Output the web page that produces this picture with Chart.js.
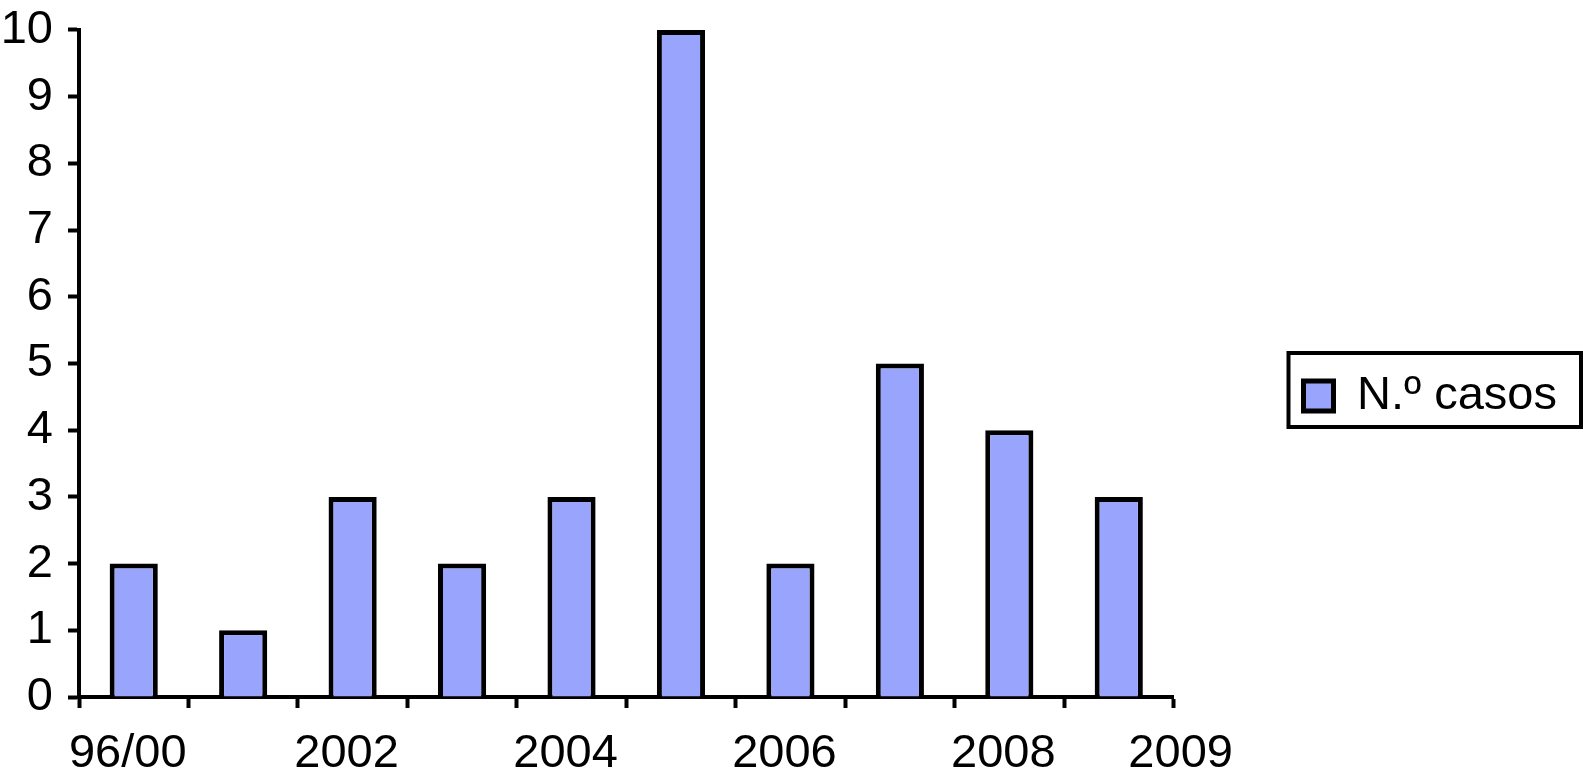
<!DOCTYPE html>
<html>
<head>
<meta charset="utf-8">
<script src="https://cdn.jsdelivr.net/npm/chart.js@4"></script>
<style>
  html, body { margin: 0; padding: 0; background: #fff; overflow: hidden; }
  #wrap { width: 1583px; height: 778px; }
</style>
</head>
<body>
<div id="wrap"><canvas id="my-chart"></canvas></div>
<script>
const categories = ["96/00", "2001", "2002", "2003", "2004", "2005", "2006", "2007", "2008", "2009"];
const casos = [2, 1, 3, 2, 3, 10, 2, 5, 4, 3];
const tickLabels = ["96/00", "2002", "2004", "2006", "2008", "2009"];
const seriesName = "N.º casos";

const FONT = "'Liberation Sans', Arial, sans-serif";

// box drawn round the legend item, like the original
const legendFrame = {
  id: "legendFrame",
  afterDraw(chart) {
    const hb = chart.legend && chart.legend.legendHitBoxes && chart.legend.legendHitBoxes[0];
    if (!hb) return;
    const ctx = chart.ctx;
    const cy = hb.top + hb.height / 2;
    const left = hb.left - 15;
    const right = chart.width - 2;
    ctx.save();
    ctx.strokeStyle = "#000";
    ctx.lineWidth = 4;
    ctx.strokeRect(left, cy - 43, right - left, 74);
    ctx.restore();
  },
};

const chartContainer = document.getElementById("my-chart");

new Chart(chartContainer, {
  type: "bar",
  data: {
    labels: categories,
    datasets: [
      {
        label: seriesName,
        data: casos,
        backgroundColor: "#99a5fd",
        borderColor: "#000",
        borderWidth: 5,
        categoryPercentage: 1,
        barPercentage: 0.44,
      },
    ],
  },
  options: {
    responsive: true,
    maintainAspectRatio: false,
    animation: false,
    layout: { padding: { top: 14, left: 2, right: 16, bottom: 0 } },
    plugins: {
      tooltip: { enabled: false },
      legend: {
        position: "right",
        maxWidth: 400,
        labels: {
          boxWidth: 30,
          boxHeight: 30,
          padding: 48,
          color: "#000",
          font: { family: FONT, size: 47 },
        },
      },
    },
    scales: {
      x: {
        type: "category",
        weight: 0,
        grid: {
          display: true,
          drawOnChartArea: false,
          drawTicks: true,
          tickLength: 11,
          tickWidth: 4,
          tickColor: "#000",
        },
        border: { display: true, color: "#000", width: 4 },
        ticks: { display: false },
      },
      xl: {
        type: "linear",
        position: "bottom",
        weight: 1,
        offset: false,
        min: 0,
        max: categories.length,
        grid: { display: false, offset: false },
        border: { display: false },
        afterBuildTicks: (scale) => {
          scale.ticks = tickLabels.map((lab, i) => {
            // last label sits past the end of the axis in the original
            if (i === tickLabels.length - 1) return { value: categories.length + 0.12 };
            return { value: categories.indexOf(lab) + 0.5 };
          });
        },
        afterFit: (scale) => {
          scale.height = 70;
        },
        ticks: {
          autoSkip: false,
          maxRotation: 0,
          padding: 10,
          labelOffset: -6,
          color: "#000",
          font: { family: FONT, size: 47 },
          callback: (value, index) => tickLabels[index],
        },
      },
      y: {
        min: 0,
        max: 10,
        grid: {
          display: true,
          drawOnChartArea: false,
          drawTicks: true,
          tickLength: 11,
          tickWidth: 4,
          tickColor: "#000",
        },
        border: { display: true, color: "#000", width: 4 },
        afterFit: (scale) => {
          scale.width = 77;
        },
        ticks: {
          stepSize: 1,
          padding: 15,
          color: "#000",
          font: { family: FONT, size: 47, lineHeight: 0.638 },
        },
      },
      gap: {
        type: "linear",
        position: "right",
        display: true,
        grid: { display: false },
        border: { display: false },
        ticks: { display: false },
        afterFit: (scale) => {
          scale.width = 82;
        },
      },
    },
  },
  plugins: [legendFrame],
});
</script>
</body>
</html>
